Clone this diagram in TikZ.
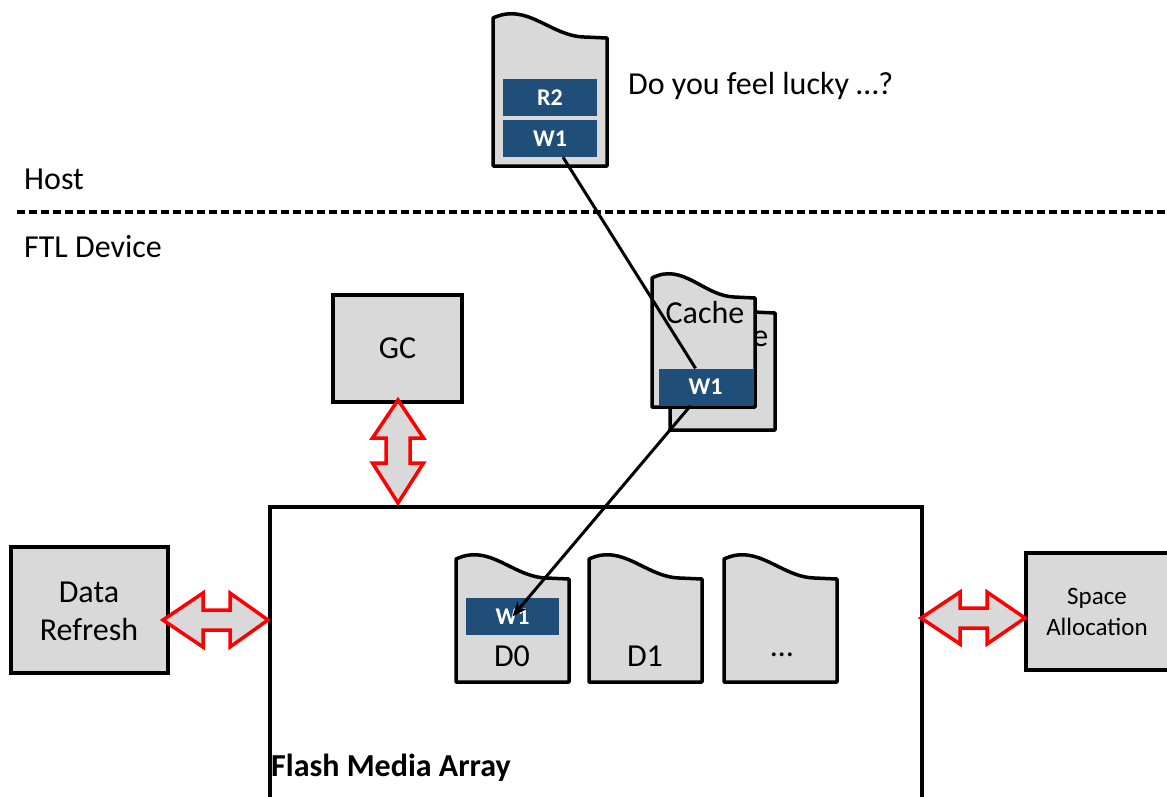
\documentclass[tikz,border=0pt]{standalone}
\usepackage{fontspec}
\setmainfont{Carlito}
\usetikzlibrary{arrows.meta,calc}
\definecolor{boxgray}{HTML}{D9D9D9}
\definecolor{blk}{HTML}{1F4E79}
\newcommand\fs[1]{\fontsize{#1}{#1}\selectfont}
\newcommand\docpath[4]{%
  \pgfmathsetmacro\dw{#3-#1}%
  \filldraw[docsty] (#1,#4) -- (#1,#2) .. controls ({#1+0.3*\dw},{#2-16}) and ({#1+0.5*\dw},{#2+18}) .. ({#1+0.8*\dw},{#2+19}) -- (#3,{#2+20}) -- (#3,#4) -- cycle;}
\tikzset{
  docsty/.style={fill=boxgray,draw=black,line width=3.5pt,line join=round},
  graybox/.style={draw=black,fill=boxgray,line width=3.5pt,inner sep=0pt,align=center},
  blue/.style={fill=blk,draw=none,text=white,font=\fs{24}\bfseries,minimum width=94pt,minimum height=37pt,inner sep=0pt},
  redarr/.style={draw=red,fill=boxgray,line width=3.5pt,line join=miter},
  conn/.style={draw=black,line width=3pt},
  lbl/.style={inner sep=0pt,font=\fs{32}}
}
\begin{document}
\begin{tikzpicture}[x=1pt,y=-1pt]
\useasboundingbox (0,0) rectangle (1167,796);
% host document
\docpath{493}{18}{607}{166}
\node[blue] (hr2) at (550,97.5) {R2};
\node[blue] (hw1) at (550,138.5) {W1};
\node[lbl,anchor=west] (lucky) at (628,86) {Do you feel lucky …?};
% separator
\node[lbl,anchor=west] (host) at (24,179) {Host};
\draw[line width=3.5pt,dash pattern=on 8pt off 4pt] (17,212) -- (1167,212);
\node[lbl,anchor=west] (ftl) at (24,247) {FTL Device};
% GC
\node[graybox,minimum width=129pt,minimum height=107pt,font=\fs{32}] (gc) at (397.5,348.5) {GC};
% cache stack
\docpath{670}{293}{775}{430}
\node[lbl] (cacheb) at (729,335) {Cache};
\docpath{652}{278}{755}{407}
\node[lbl] (cache) at (705,312) {Cache};
\node[blue] (cw1) at (705.5,387) {W1};
% flash media array
\draw[line width=3.5pt] (270,800) -- (270,507) -- (922,507) -- (922,800) -- cycle;
\node[inner sep=0pt,anchor=base west,font=\fs{32}\bfseries] (fma) at (271,776) {Flash Media Array};
\docpath{456}{559}{569}{682}
\node[blue,minimum width=93pt] (dw1) at (512.5,616.5) {W1};
\node[lbl] (d0) at (512,656) {D0};
\docpath{589}{559}{702}{682}
\node[lbl] (d1) at (645,656) {D1};
\docpath{724}{559}{837}{682}
\node[lbl] (dd) at (782,655) {…};
% side boxes
\node[graybox,minimum width=157pt,minimum height=126pt] (dr) at (89.5,610) {};
\node[inner sep=0pt,align=center,font=\fontsize{32}{38}\selectfont] (drt) at (89,611) {Data\\Refresh};
\node[graybox,minimum width=151pt,minimum height=117pt,anchor=west] (sa) at (1024,611.5) {};
\node[inner sep=0pt,align=center,font=\fontsize{25}{31}\selectfont] (sat) at (1097,612) {Space\\Allocation};
% red double arrows
\draw[redarr] (163,620) -- (203,593) -- (203,610) -- (230,610) -- (230,593) -- (268,620) -- (230,647) -- (230,630) -- (203,630) -- (203,647) -- cycle;
\draw[redarr] (921,618) -- (960,592) -- (960,608) -- (987,608) -- (987,592) -- (1025,618) -- (987,644) -- (987,628) -- (960,628) -- (960,644) -- cycle;
\draw[redarr] (398,400) -- (423.5,438) -- (410,438) -- (410,463) -- (423.5,463) -- (398,503) -- (372.5,463) -- (386,463) -- (386,438) -- (372.5,438) -- cycle;
% connectors
\draw[conn] ([xshift=13pt]hw1.south) -- ([xshift=-10pt]cw1.north);
\draw[conn,-{Stealth[length=15pt,width=12pt]}] ([xshift=-15pt]cw1.south) -- (dw1.center);
\end{tikzpicture}
\end{document}
